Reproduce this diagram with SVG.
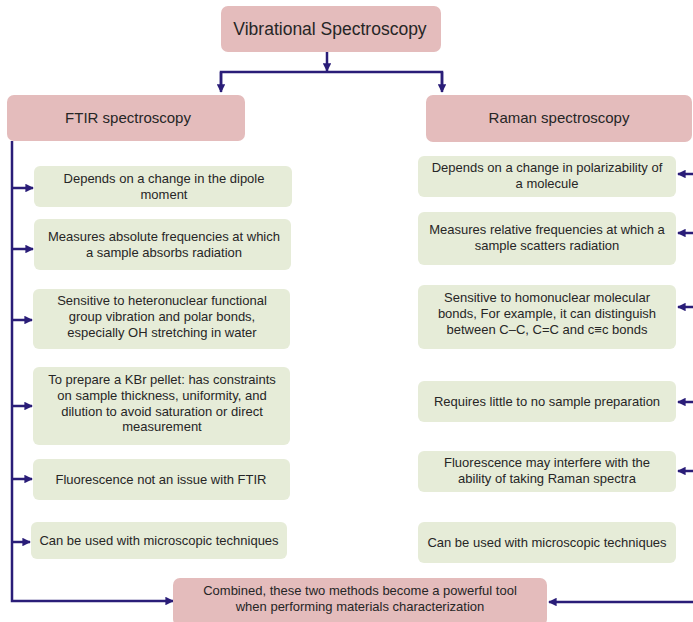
<svg xmlns="http://www.w3.org/2000/svg" width="693" height="622" viewBox="0 0 693 622">
  <style>
    .head { fill: #e4bcbc; }
    .item { fill: #e6ecd8; }
    text { font-family: "Liberation Sans", Arial, sans-serif; fill: #262626; text-anchor: middle; }
    .t1 { font-size: 17.5px; }
    .t2 { font-size: 15px; }
    .t3 { font-size: 13px; }
    .wire { fill: none; stroke: #2a1d78; stroke-width: 2.5; }
  </style>
  <defs>
    <marker id="arrow" viewBox="0 0 10 10" refX="9" refY="5" markerWidth="3.6" markerHeight="3.4" orient="auto" markerUnits="strokeWidth">
      <path d="M0,0 L10,5 L0,10 z" fill="#2a1d78"/>
    </marker>
  </defs>

  <rect width="693" height="622" fill="#ffffff"/>

  <!-- connectors -->
  <g id="connectors" class="wire">
    <line x1="327" y1="52" x2="327" y2="71" marker-end="url(#arrow)"/>
    <polyline points="221,90 221,72 442,72 442,90" />
    <line x1="221" y1="72" x2="221" y2="92" marker-end="url(#arrow)"/>
    <line x1="442" y1="72" x2="442" y2="92" marker-end="url(#arrow)"/>
    <!-- FTIR branch -->
    <polyline points="12,141 12,601 173,601" marker-end="url(#arrow)"/>
    <line x1="12" y1="188" x2="33" y2="188" marker-end="url(#arrow)"/>
    <line x1="12" y1="249" x2="33" y2="249" marker-end="url(#arrow)"/>
    <line x1="12" y1="320" x2="32" y2="320" marker-end="url(#arrow)"/>
    <line x1="12" y1="406" x2="32" y2="406" marker-end="url(#arrow)"/>
    <line x1="12" y1="479" x2="32" y2="479" marker-end="url(#arrow)"/>
    <line x1="12" y1="542" x2="30" y2="542" marker-end="url(#arrow)"/>
    <!-- Raman branch (trunk runs just past the right edge) -->
    <polyline points="696,142 696,602 549,602" marker-end="url(#arrow)"/>
    <line x1="696" y1="174" x2="678" y2="174" marker-end="url(#arrow)"/>
    <line x1="696" y1="233" x2="678" y2="233" marker-end="url(#arrow)"/>
    <line x1="696" y1="307" x2="678" y2="307" marker-end="url(#arrow)"/>
    <line x1="696" y1="402" x2="678" y2="402" marker-end="url(#arrow)"/>
    <line x1="696" y1="471" x2="678" y2="471" marker-end="url(#arrow)"/>
  </g>

  <g id="root">
    <rect class="head" x="221" y="6" width="220" height="46" rx="7"/>
    <text class="t1" x="330" y="35">Vibrational Spectroscopy</text>
  </g>

  <g id="ftir">
    <rect class="head" x="7" y="95" width="238" height="46" rx="7"/>
    <text class="t2" x="128" y="123">FTIR spectroscopy</text>
  </g>

  <g id="raman">
    <rect class="head" x="426" y="95" width="266" height="47" rx="7"/>
    <text class="t2" x="559" y="123">Raman spectroscopy</text>
  </g>

  <g id="ftir-dipole">
    <rect class="item" x="34" y="166" width="258" height="41" rx="6"/>
    <text class="t3" x="164" y="183">Depends on a change in the dipole<tspan x="164" dy="16">moment</tspan></text>
  </g>
  <g id="ftir-absolute">
    <rect class="item" x="34" y="219" width="257" height="51" rx="6"/>
    <text class="t3" x="164" y="241">Measures absolute frequencies at which<tspan x="164" dy="16">a sample absorbs radiation</tspan></text>
  </g>
  <g id="ftir-hetero">
    <rect class="item" x="33" y="289" width="257" height="60" rx="6"/>
    <text class="t3" x="162" y="305">Sensitive to heteronuclear functional<tspan x="162" dy="16">group vibration and polar bonds,</tspan><tspan x="162" dy="16">especially OH stretching in water</tspan></text>
  </g>
  <g id="ftir-kbr">
    <rect class="item" x="33" y="367" width="257" height="78" rx="6"/>
    <text class="t3" x="162" y="384">To prepare a KBr pellet: has constraints<tspan x="162" dy="15.8">on sample thickness, uniformity, and</tspan><tspan x="162" dy="15.8">dilution to avoid saturation or direct</tspan><tspan x="162" dy="15.8">measurement</tspan></text>
  </g>
  <g id="ftir-fluorescence">
    <rect class="item" x="33" y="459" width="257" height="41" rx="6"/>
    <text class="t3" x="161" y="484">Fluorescence not an issue with FTIR</text>
  </g>
  <g id="ftir-microscopy">
    <rect class="item" x="31" y="522" width="256" height="37" rx="6"/>
    <text class="t3" x="159" y="545">Can be used with microscopic techniques</text>
  </g>

  <g id="raman-polarizability">
    <rect class="item" x="418" y="156" width="258" height="41" rx="6"/>
    <text class="t3" x="547" y="172">Depends on a change in polarizability of<tspan x="547" dy="16">a molecule</tspan></text>
  </g>
  <g id="raman-relative">
    <rect class="item" x="418" y="212" width="258" height="53" rx="6"/>
    <text class="t3" x="547" y="234">Measures relative frequencies at which a<tspan x="547" dy="16">sample scatters radiation</tspan></text>
  </g>
  <g id="raman-homo">
    <rect class="item" x="418" y="285" width="258" height="64" rx="6"/>
    <text class="t3" x="547" y="302">Sensitive to homonuclear molecular<tspan x="547" dy="16">bonds, For example, it can distinguish</tspan><tspan x="547" dy="16">between C–C, C=C and c≡c bonds</tspan></text>
  </g>
  <g id="raman-preparation">
    <rect class="item" x="418" y="381" width="258" height="41" rx="6"/>
    <text class="t3" x="547" y="406">Requires little to no sample preparation</text>
  </g>
  <g id="raman-fluorescence">
    <rect class="item" x="418" y="451" width="258" height="41" rx="6"/>
    <text class="t3" x="547" y="467">Fluorescence may interfere with the<tspan x="547" dy="16">ability of taking Raman spectra</tspan></text>
  </g>
  <g id="raman-microscopy">
    <rect class="item" x="418" y="522" width="258" height="41" rx="6"/>
    <text class="t3" x="547" y="547">Can be used with microscopic techniques</text>
  </g>

  <g id="combined">
    <rect class="head" x="173" y="578" width="374" height="48" rx="7"/>
    <text class="t3" x="360" y="595">Combined, these two methods become a powerful tool<tspan x="360" dy="16">when performing materials characterization</tspan></text>
  </g>
</svg>
